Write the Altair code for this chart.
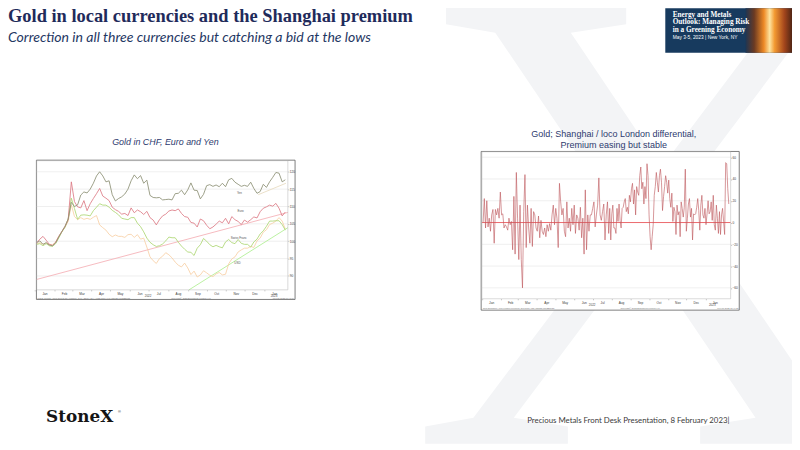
import altair as alt
import pandas as pd

W, H = 792, 436

# ---------------- left panel: gold rebased in local currencies (5-day steps from 4 Jan 2022)
left_start = "2022-01-04"
yen = [99.6, 100.1, 99.1, 99.6, 98.9, 98.7, 99.5, 101.2, 102.8, 104.3, 106.4, 111.2, 110.0, 110.5,
       113.3, 114.2, 113.9, 115.0, 116.7, 118.8, 120.0, 118.8, 117.1, 117.4, 113.4, 111.6, 112.3,
       112.8, 113.6, 115.0, 117.4, 119.1, 118.0, 118.9, 116.7, 117.6, 113.2, 112.6, 112.5, 112.6,
       111.9, 112.0, 112.1, 111.9, 113.7, 113.8, 114.7, 113.4, 114.8, 116.8, 114.7, 114.6, 112.2,
       113.5, 116.0, 116.3, 115.8, 116.2, 115.7, 116.7, 115.7, 117.7, 118.1, 117.0, 116.4, 115.8,
       116.1, 115.8, 117.0, 115.2, 113.8, 114.3, 116.4, 115.5, 117.1, 118.4, 119.8, 119.6, 117.1, 117.7]
euro = [99.6, 100.6, 101.4, 100.3, 99.1, 98.8, 99.7, 101.4, 102.8, 104.3, 106.2, 117.1, 111.4, 109.9,
        109.6, 111.7, 108.8, 110.8, 112.3, 113.7, 115.2, 113.0, 112.4, 111.7, 109.8, 109.1, 108.6,
        107.8, 108.0, 107.4, 109.6, 108.2, 109.0, 108.5, 107.7, 108.6, 106.8, 106.1, 104.7, 106.2,
        107.3, 107.8, 108.7, 109.0, 108.8, 109.3, 108.0, 107.1, 106.9, 105.4, 105.2, 104.1, 106.4,
        105.9, 104.6, 103.6, 104.1, 104.9, 105.8, 105.3, 106.6, 105.0, 107.1, 106.2, 105.7, 104.8,
        106.1, 105.5, 106.2, 107.0, 106.7, 108.5, 109.5, 109.9, 110.4, 110.1, 110.9, 109.5, 107.3, 108.4]
chf = [99.1, 99.3, 98.7, 99.3, 98.7, 98.5, 99.3, 100.9, 102.7, 104.0, 106.4, 112.4, 109.4, 106.3,
       107.5, 107.6, 107.5, 107.3, 108.8, 109.8, 110.8, 110.4, 110.4, 109.8, 108.9, 108.3, 107.6,
       106.6, 106.4, 106.2, 106.8, 106.8, 105.2, 104.2, 102.7, 100.9, 99.7, 99.0, 98.5, 98.7,
       99.2, 100.1, 101.2, 101.0, 101.0, 99.7, 98.6, 97.7, 96.9, 96.8, 95.9, 98.0, 99.0,
       100.8, 100.0, 99.0, 98.4, 98.8, 98.4, 98.1, 99.8, 100.5, 99.6, 99.3, 100.5, 99.4,
       99.1, 99.1, 98.3, 99.8, 100.6, 102.1, 103.0, 104.3, 105.8, 105.8, 105.9, 105.9, 104.8, 103.2]
usd = [99.3, 99.6, 99.1, 99.5, 99.1, 99.0, 99.7, 101.4, 102.7, 104.1, 105.7, 110.5, 107.1, 106.2,
       106.8, 106.3, 106.6, 106.3, 106.9, 107.4, 104.7, 103.9, 103.2, 102.0, 101.3, 101.8, 101.4,
       101.4, 101.1, 101.9, 102.0, 101.1, 101.9, 100.6, 100.9, 98.3, 95.5, 94.4, 93.6, 95.0,
       95.7, 96.7, 96.1, 95.2, 94.0, 93.1, 92.6, 93.7, 92.3, 90.4, 91.4, 89.7, 90.3,
       91.5, 90.9, 90.2, 89.8, 90.6, 91.0, 90.3, 90.5, 93.5, 94.9, 95.5, 96.9, 97.5,
       98.0, 98.0, 98.5, 98.2, 100.1, 100.9, 102.6, 103.3, 104.8, 105.2, 105.8, 106.8, 105.8, 103.5]
series_names = ["USD", "Swiss Franc", "Euro", "Yen"]
series_colors = ["#f8cfa4", "#add672", "#dc7a84", "#8b8f73"]

label_dates = ["2022-11-22", "2022-11-24", "2022-11-21", "2022-11-19"]
label_values = [113.8, 108.8, 101.0, 93.7]
label_texts = ["Yen", "Euro", "Swiss Franc", "USD"]

trend_start = ["2022-01-04", "2022-09-03", "2022-12-22"]
trend_end = ["2023-02-07", "2023-02-07", "2023-02-04"]
trend_v0 = [89.0, 86.0, 113.4]
trend_v1 = [108.3, 103.9, 116.7]
trend_colors = ["#f5b3b8", "#b3ef97", "#e8dcc2"]

left_ticks = [90, 95, 100, 105, 110, 115, 120]

# ---------------- right panel: Shanghai premium over loco London ($/oz)
prem_h1 = [0, 22, -5, 20, -4, 4, -8, 7, 12, -19, 12, 7, 13, 4, 28, 7, 8, -5, -2, -4, -7, 4, -2, 1,
           -25, 24, -29, 46, 4, -34, 16, -34, -60, 10, 44, -23, 16, -5, -19, 13, -22, 10, 7, -5,
           -8, 6, -14, 2, -8, -11, -5, -13, -2, -8, -1, -7, 7, 16, -2, 13, 4, -23, 36, 19, 7, 13,
           -8, -13, 19, -5, 4, -8, 13, -2, 16, -10, 7, 4, -7, 14, -14, 4, -29, 30, -25, 7, -8, 7,
           7, 13, 19, -4, 7, 16, 41, 7, 2, 10, 17, -16, 7, 19]
prem_h2 = [-10, 13, -16, 8, 16, -5, -5, -10, 13, 1, 17, 2, -5, 13, 14, 19, 22, 10, 14, 8, 25, 19,
           31, 36, 17, 30, 7, 33, 28, 25, 43, 51, 31, 37, 17, 33, 22, 54, 43, 7, -13, -25, -13, -2,
           25, 33, 46, 37, 28, 43, 49, 37, 11, 24, 33, 43, 37, 27, 39, 22, 14, 27, 1, 14, 10, -11,
           16, 7, 10, -13, 19, 13, 5, 14, 49, -8, 4, 17, 22, 5, 13, -16, 8, 7, 8, 14, 22, 11, -7,
           16, 25, 7, 4, 13, -2, 8, 20, 8, 10, 19, 2, 25, -2, -7, 16, 4, -10, 10, -11, 7, 13, 1,
           -11, 55, 54, 31, 17]
right_ticks = [-60, -40, -20, 0, 20, 40, 60]
right_grid = [-60, -40, -20, 20, 40, 60]

year_texts = ["2022", "2023"]
left_year_dates = ["2022-06-30", "2023-01-16"]
right_year_dates = ["2022-06-30", "2023-01-12"]
month_ticks = [alt.DateTime(year=2022, month=m, date=1) for m in range(1, 13)] + [
    alt.DateTime(year=2023, month=1, date=1)]

NAVY = "#1f2b5b"
SANS = "Liberation Sans"
SERIF = "Liberation Serif"


def at(text, x, y, **style):
    return alt.Chart(pd.DataFrame({"t": [text]})).mark_text(**style).encode(
        x=alt.value(x), y=alt.value(y), text="t:N")


def box(x0, y0, x1, y1, **style):
    return alt.Chart(pd.DataFrame({"k": [0]})).mark_rect(**style).encode(
        x=alt.value(x0), x2=alt.value(x1), y=alt.value(y0), y2=alt.value(y1))


def tiny_axis(**kw):
    return alt.Axis(labelFont=SANS, labelFontSize=3.2, labelColor="#3c3c3c", tickColor="#777",
                    tickSize=1, tickWidth=0.5, domain=False, grid=False, labelPadding=0.3,
                    labelFlush=False, labelOverlap=False, zindex=1, **kw)


# ---------------- slide furniture
watermark = at("X", 650, 438, font=SERIF, fontSize=674, color="#f3f4f6",
               align="center", baseline="alphabetic")
fire = alt.LinearGradient(
    gradient="linear", x1=0, x2=1, y1=0, y2=0,
    stops=[alt.GradientStop(offset=0, color="#1d3553"),
           alt.GradientStop(offset=0.18, color="#6b3a22"),
           alt.GradientStop(offset=0.38, color="#ef8a26"),
           alt.GradientStop(offset=0.5, color="#fde3a0"),
           alt.GradientStop(offset=0.6, color="#f39a32"),
           alt.GradientStop(offset=0.8, color="#a4461c"),
           alt.GradientStop(offset=1, color="#3b1d12")])
logo = [
    box(664, -2, 794, 43, fill="#173a5e"),
    box(745, -2, 794, 43, fill=fire),
    at("Energy and Metals", 671.5, 4.8, font=SERIF, fontSize=7.3, fontWeight="bold",
       color="white", align="left"),
    at("Outlook: Managing Risk", 671.5, 12.4, font=SERIF, fontSize=7.3, fontWeight="bold",
       color="white", align="left"),
    at("in a Greening Economy", 671.5, 20.0, font=SERIF, fontSize=7.3, fontWeight="bold",
       color="white", align="left"),
    at("May 3-5, 2023 | New York, NY", 671.5, 27.6, font=SANS, fontSize=4.9,
       color="white", align="left"),
]
heading = [
    at("Gold in local currencies and the Shanghai premium", 0, 12, font=SERIF, fontSize=18.6,
       fontWeight="bold", color=NAVY, align="left", baseline="alphabetic"),
    at("Correction in all three currencies but catching a bid at the lows", 0, 32.5,
       font="Lato", fontSize=14.2, fontStyle="italic", color="#1f3864", align="left",
       baseline="alphabetic"),
]
footer = [
    at("StoneX", 38.5, 416, font="DejaVu Serif", fontSize=17, fontWeight="bold",
       color="#151515", align="left", baseline="alphabetic"),
    at("®", 111, 405.5, font=SANS, fontSize=4, color="#151515", align="left"),
    at("Precious Metals Front Desk Presentation, 8 February 2023|", 524.5, 415.3, font="Lato",
       fontSize=7.9, color="#3a3a3a", align="left"),
]

# ---------------- left chart
LX = alt.Scale(domain=[alt.DateTime(year=2022, month=1, date=1),
                       alt.DateTime(year=2023, month=2, date=7)], range=[27.1, 282.7], nice=False)
LY = alt.Scale(domain=[86, 123.2], range=[282.5, 152.0], zero=False, nice=False)

dates_l = pd.date_range(left_start, periods=len(yen), freq="5D")
left_grid = alt.Chart(pd.DataFrame({
    "v": left_ticks, "d0": pd.Timestamp("2022-01-04"), "d1": pd.Timestamp("2023-02-07")
})).mark_rule(color="#e4e4e4", strokeWidth=0.6).encode(
    x=alt.X("d0:T", scale=LX, title=None,
            axis=tiny_axis(orient="bottom", offset=282.5 - H, values=month_ticks, format="%b",
                           labelOffset=9.7)),
    x2="d1:T",
    y=alt.Y("v:Q", scale=LY, title=None,
            axis=tiny_axis(orient="right", offset=282.7 - W, values=left_ticks)),
)
trend_df = pd.DataFrame({"d0": pd.to_datetime(trend_start), "d1": pd.to_datetime(trend_end),
                         "v0": trend_v0, "v1": trend_v1, "c": trend_colors})
trends = alt.Chart(trend_df).mark_rule(strokeWidth=0.9).encode(
    x=alt.X("d0:T", scale=LX, axis=None), x2="d1:T",
    y=alt.Y("v0:Q", scale=LY, axis=None), y2="v1:Q",
    color=alt.Color("c:N", scale=None),
)
left_lines = [
    alt.Chart(pd.DataFrame({"d": dates_l, "v": vals})).mark_line(color=c, strokeWidth=0.85).encode(
        x=alt.X("d:T", scale=LX, axis=None), y=alt.Y("v:Q", scale=LY, axis=None))
    for vals, c in zip([usd, chf, euro, yen], series_colors)
]
left_labels = alt.Chart(pd.DataFrame({
    "d": pd.to_datetime(label_dates), "v": label_values, "t": label_texts
})).mark_text(font=SANS, fontSize=3, color="#555").encode(
    x=alt.X("d:T", scale=LX, axis=None), y=alt.Y("v:Q", scale=LY, axis=None), text="t:N")
left_years = alt.Chart(pd.DataFrame({
    "d": pd.to_datetime(left_year_dates), "t": year_texts
})).mark_text(font=SANS, fontSize=3, color="#444").encode(
    x=alt.X("d:T", scale=LX, axis=None), y=alt.value(288.6), text="t:N")

left_panel = [
    box(28.7, 151.5, 290, 292.2, fill="white", stroke="#5c5c5c", strokeWidth=0.8),
    left_grid, trends, *left_lines,
    box(29, 152, 282.7, 282.5, fillOpacity=0, stroke="#b4b4b4", strokeWidth=0.5),
    left_labels, left_years,
    at("GOLD Comdty (Gold Spot $/Oz) rebased, CHF / EUR / JPY / USD  Daily 04JAN2022-07FEB2023",
       29.5, 290.6, font=SANS, fontSize=2.2, color="#777", align="left"),
    at("Copyright© 2023 Bloomberg Finance L.P.", 185, 290.6, font=SANS, fontSize=2.2,
       color="#777"),
    at("07-Feb-2023 10:41:19", 289, 290.6, font=SANS, fontSize=2.2, color="#777", align="right"),
    at("Gold in CHF, Euro and Yen", 159, 133, font=SANS, fontSize=9, fontStyle="italic",
       color="#2d3a6e"),
]

# ---------------- right chart
RX = alt.Scale(domain=[alt.DateTime(year=2022, month=1, date=1),
                       alt.DateTime(year=2023, month=2, date=11)], range=[478.7, 730], nice=False)
RY = alt.Scale(domain=[-70, 65], range=[291.5, 143.0], zero=False, nice=False)

dates_p = pd.date_range("2022-01-03", "2022-07-25", periods=len(prem_h1)).append(
    pd.date_range("2022-07-27", "2023-02-08", periods=len(prem_h2)))
prem_df = pd.DataFrame({"d": dates_p, "v": prem_h1 + prem_h2})

right_grid_layer = alt.Chart(pd.DataFrame({
    "v": right_grid, "d0": pd.Timestamp("2022-01-01"), "d1": pd.Timestamp("2023-02-11")
})).mark_rule(color="#e4e4e4", strokeWidth=0.6).encode(
    x=alt.X("d0:T", scale=RX, title=None,
            axis=tiny_axis(orient="bottom", offset=291.5 - H, values=month_ticks, format="%b",
                           labelOffset=9.4)),
    x2="d1:T",
    y=alt.Y("v:Q", scale=RY, title=None,
            axis=tiny_axis(orient="right", offset=730 - W, values=right_ticks)),
)
zero_line = alt.Chart(pd.DataFrame({
    "v": [0], "d0": pd.Timestamp("2022-01-01"), "d1": pd.Timestamp("2023-02-11")
})).mark_rule(color="#e8585c", strokeWidth=0.9).encode(
    x=alt.X("d0:T", scale=RX, axis=None), x2="d1:T", y=alt.Y("v:Q", scale=RY, axis=None))
prem_line = alt.Chart(prem_df).mark_line(color="#bf5a5e", strokeWidth=0.7, opacity=0.9).encode(
    x=alt.X("d:T", scale=RX, axis=None), y=alt.Y("v:Q", scale=RY, axis=None))
right_years = alt.Chart(pd.DataFrame({
    "d": pd.to_datetime(right_year_dates), "t": year_texts
})).mark_text(font=SANS, fontSize=3, color="#444").encode(
    x=alt.X("d:T", scale=RX, axis=None), y=alt.value(297.8), text="t:N")

right_panel = [
    box(478, 142.7, 738.7, 303, fill="white", stroke="#5c5c5c", strokeWidth=0.8),
    right_grid_layer, zero_line, prem_line,
    box(478.7, 143, 730, 291.5, fillOpacity=0, stroke="#b4b4b4", strokeWidth=0.5),
    right_years,
    at("Gold Shanghai / loco London premium, $/oz  Daily 03JAN2022-08FEB2023", 479.5, 301,
       font=SANS, fontSize=2.2, color="#777", align="left"),
    at("Copyright© 2023 Bloomberg Finance L.P.", 638.7, 301, font=SANS, fontSize=2.2,
       color="#777"),
    at("07-Feb-2023 10:44:26", 738, 301, font=SANS, fontSize=2.2, color="#777", align="right"),
    at("Gold; Shanghai / loco London differential,", 612, 125.3, font=SANS, fontSize=9.1,
       color="#2d3a6e"),
    at("Premium  easing but stable", 612, 136.3, font=SANS, fontSize=9.1, color="#2d3a6e"),
]

chart = alt.layer(
    watermark, *logo, *heading, *left_panel, *right_panel, *footer
).resolve_scale(
    x="independent", y="independent"
).properties(
    width=W, height=H, padding=0, autosize=alt.AutoSizeParams(type="none")
).configure(
    background="white"
).configure_view(
    strokeWidth=0
)

chart.save("out.html", embed_options={"renderer": "svg", "actions": False})
